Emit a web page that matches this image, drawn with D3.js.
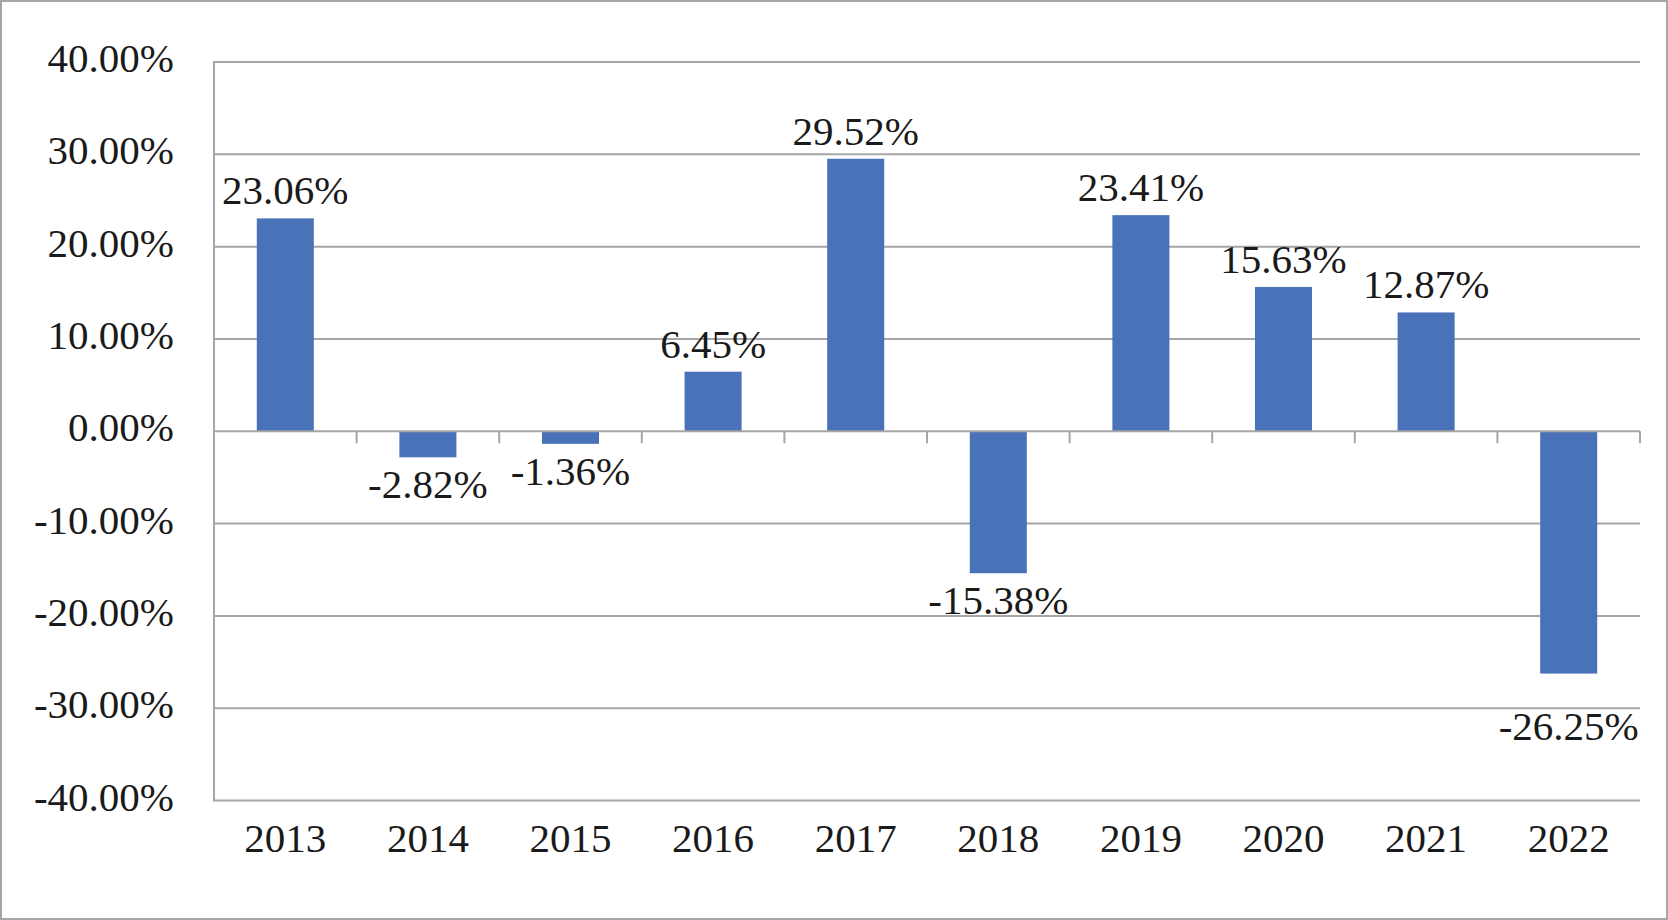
<!DOCTYPE html>
<html>
<head>
<meta charset="utf-8">
<script src="https://cdn.jsdelivr.net/npm/d3@7"></script>
<style>
  html, body { margin: 0; padding: 0; background: #fff; }
  svg { display: block; }
  text { font-family: "Liberation Serif", "DejaVu Serif", serif; fill: #1a1a1a; }
</style>
</head>
<body>
<script>
const years = ["2013","2014","2015","2016","2017","2018","2019","2020","2021","2022"];
const returns = [23.06, -2.82, -1.36, 6.45, 29.52, -15.38, 23.41, 15.63, 12.87, -26.25];
const yTicks = [40, 30, 20, 10, 0, -10, -20, -30, -40];

(function () {
const W = 1668, H = 920;
const pLeft = 214, pRight = 1640, pTop = 62, pBottom = 800.5;
const fontSize = 41;

const svg = d3.select("body").append("svg").attr("width", W).attr("height", H);

svg.append("rect").attr("x", 1).attr("y", 1).attr("width", W - 2).attr("height", H - 2)
  .attr("fill", "#fff").attr("stroke", "#a6a6a6").attr("stroke-width", 2);

const x = d3.scaleBand().domain(years).range([pLeft, pRight]).paddingInner(0.6).paddingOuter(0.3);
const y = d3.scaleLinear().domain([-40, 40]).range([pBottom, pTop]);

// gridlines
svg.append("g").selectAll("line").data(yTicks.filter(t => t !== 0)).join("line")
  .attr("x1", pLeft).attr("x2", pRight)
  .attr("y1", d => y(d)).attr("y2", d => y(d))
  .attr("stroke", "#a6a6a6").attr("stroke-width", 2);

// y axis line
svg.append("line").attr("x1", pLeft).attr("x2", pLeft).attr("y1", pTop - 1).attr("y2", pBottom + 1)
  .attr("stroke", "#a6a6a6").attr("stroke-width", 2);

// y tick labels
const fmt = d => d3.format(".2f")(d).replace("−", "-") + "%";
svg.append("g").selectAll("text").data(yTicks).join("text")
  .attr("x", 174).attr("y", d => y(d) + 10)
  .attr("text-anchor", "end").attr("font-size", fontSize)
  .text(d => fmt(d));

// bars
svg.append("g").selectAll("rect").data(returns).join("rect")
  .attr("x", (d, i) => x(years[i]))
  .attr("width", x.bandwidth())
  .attr("y", d => Math.min(y(d), y(0)))
  .attr("height", d => Math.abs(y(d) - y(0)))
  .attr("fill", "#4a72b8");

// zero axis line with ticks
svg.append("line").attr("x1", pLeft).attr("x2", pRight).attr("y1", y(0)).attr("y2", y(0))
  .attr("stroke", "#a6a6a6").attr("stroke-width", 2);
const step = (pRight - pLeft) / years.length;
svg.append("g").selectAll("line").data(d3.range(1, years.length + 1)).join("line")
  .attr("x1", i => pLeft + i * step).attr("x2", i => pLeft + i * step)
  .attr("y1", y(0)).attr("y2", y(0) + 12)
  .attr("stroke", "#a6a6a6").attr("stroke-width", 2);

// value labels
svg.append("g").selectAll("text").data(returns).join("text")
  .attr("x", (d, i) => x(years[i]) + x.bandwidth() / 2)
  .attr("y", (d, i) => {
    if (d >= 0) return y(d) - 14;
    const extra = years[i] === "2022" ? 25 : 0;
    return y(d) + 41 + extra;
  })
  .attr("text-anchor", "middle").attr("font-size", fontSize)
  .text(d => fmt(d));

// x labels
svg.append("g").selectAll("text").data(years).join("text")
  .attr("x", d => x(d) + x.bandwidth() / 2)
  .attr("y", 852)
  .attr("text-anchor", "middle").attr("font-size", fontSize)
  .text(d => d);
})();
</script>
</body>
</html>
